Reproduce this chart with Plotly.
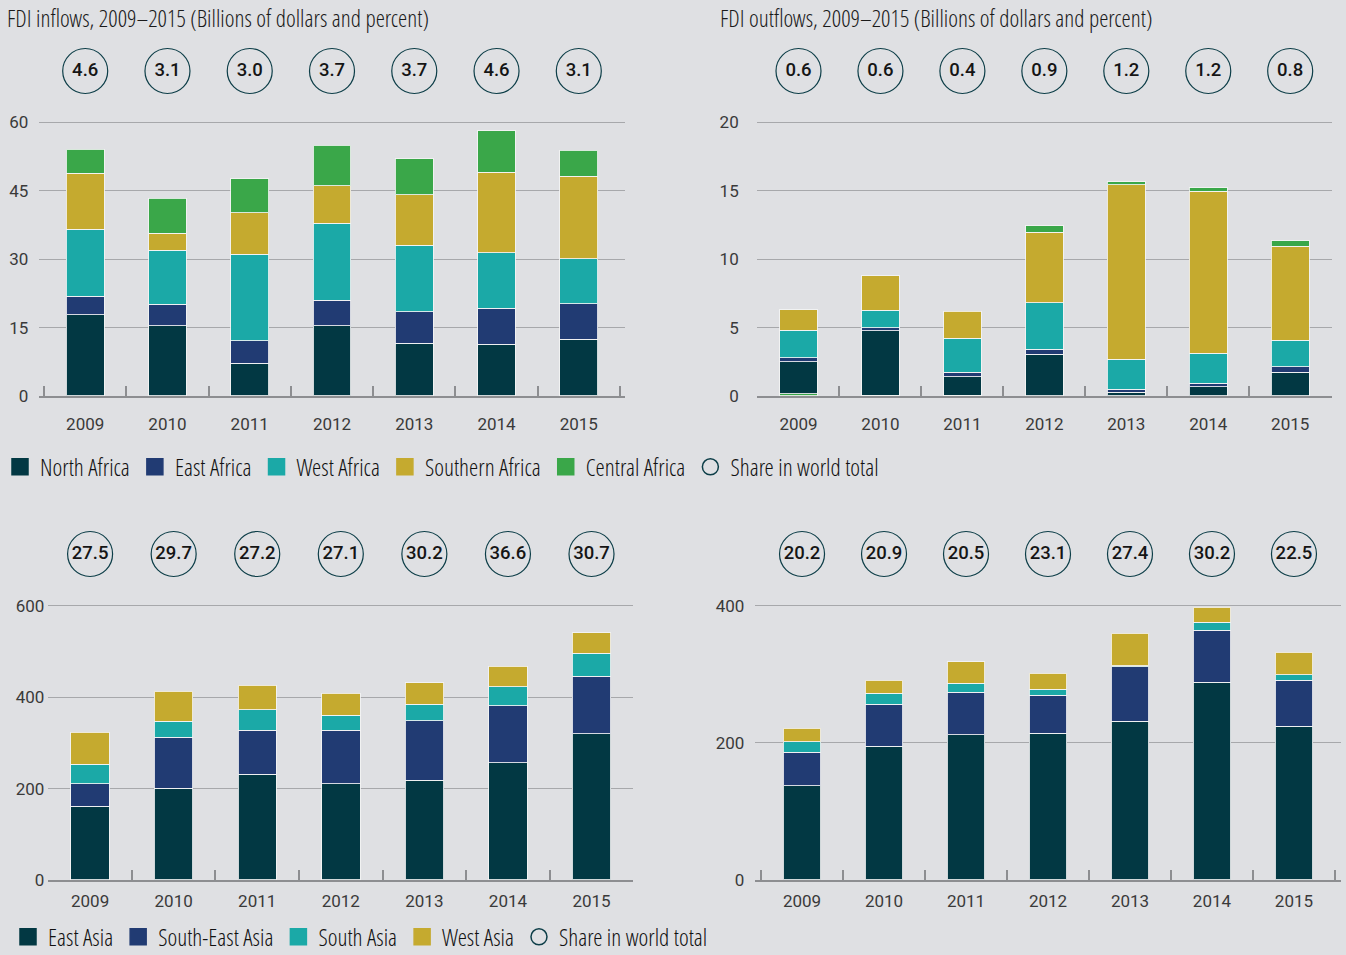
import plotly.graph_objects as go

W, H = 1346, 955

years = ["2009", "2010", "2011", "2012", "2013", "2014", "2015"]

# ---- Africa inflows (billions of dollars)
in_north_africa = [17.8, 15.4, 7.2, 15.4, 11.6, 11.3, 12.4]
in_east_africa = [4.1, 4.7, 4.9, 5.6, 6.9, 7.9, 7.8]
in_west_africa = [14.7, 11.9, 19.0, 16.9, 14.5, 12.2, 9.9]
in_southern_africa = [12.2, 3.7, 9.1, 8.2, 11.1, 17.7, 18.1]
in_central_africa = [5.3, 7.7, 7.4, 8.9, 7.9, 9.0, 5.7]
in_africa_share = [4.6, 3.1, 3.0, 3.7, 3.7, 4.6, 3.1]

# ---- Africa outflows (billions of dollars)
out_central_africa_low = [0.15, 0.05, 0.05, None, None, None, None]
out_north_africa = [2.36, 4.70, 1.36, 3.05, 0.27, 0.68, 1.73]
out_east_africa = [0.27, 0.25, 0.32, 0.36, 0.24, 0.25, 0.41]
out_west_africa = [2.02, 1.26, 2.49, 3.41, 2.17, 2.19, 1.95]
out_southern_africa = [1.49, 2.51, 1.99, 5.15, 12.74, 11.84, 6.85]
out_central_africa = [None, None, None, 0.46, 0.22, 0.24, 0.39]
out_africa_share = [0.6, 0.6, 0.4, 0.9, 1.2, 1.2, 0.8]

# ---- Asia inflows (billions of dollars)
in_east_asia = [161, 200.5, 231, 210, 218.7, 256, 320]
in_south_east_asia = [49.7, 111.5, 96.4, 117.4, 129.1, 125, 126]
in_south_asia = [42.3, 35, 44.6, 32.6, 36.2, 42, 50.5]
in_west_asia = [70.7, 65.7, 54.5, 49, 47, 45, 44.5]
in_asia_share = [27.5, 29.7, 27.2, 27.1, 30.2, 36.6, 30.7]

# ---- Asia outflows (billions of dollars)
out_east_asia = [137.5, 195, 211.9, 214.3, 231.8, 288.3, 224.5]
out_south_east_asia = [48.7, 61.2, 61.8, 55, 79.2, 75.7, 67.1]
out_south_asia = [15.5, 16, 13.1, 8.7, 1.5, 11.8, 7.8]
out_west_asia = [19.9, 19.4, 31.5, 23.8, 47.5, 22.2, 32.6]
out_asia_share = [20.2, 20.9, 20.5, 23.1, 27.4, 30.2, 22.5]

C_DARK = "#023843"
C_NAVY = "#213b73"
C_TEAL = "#1ba9a7"
C_GOLD = "#c5aa2f"
C_GREEN = "#3aa749"
C_CIRCLE = "#0d3e48"
BG = "#dfe0e3"
GRID = "#a7a8ab"
AXIS = "#8d8e91"

COND = "Open Sans Condensed Light, Open Sans, Roboto Condensed, sans-serif"
NUM = "Roboto, Open Sans, sans-serif"

fig = go.Figure()


def px_x(p):
    return p / W


def px_y(p):
    return 1 - p / H


def add_bar(name, vals, color, xa, ya):
    fig.add_trace(go.Bar(
        x=years, y=vals, name=name,
        marker=dict(color=color, line=dict(color="rgba(245,245,245,0.85)", width=1)),
        xaxis=xa, yaxis=ya, showlegend=False, hoverinfo="x+y+name"))


def add_circles(vals, xa, ya):
    fig.add_trace(go.Scatter(
        x=years, y=[0.5] * len(years), mode="markers+text",
        text=[f"{v:.1f}" for v in vals], textposition="middle center",
        textfont=dict(family=NUM, size=18.5, color="#151515", weight=500),
        marker=dict(symbol="circle-open", size=45, color=C_CIRCLE, line=dict(color=C_CIRCLE, width=1.2)),
        xaxis=xa, yaxis=ya, showlegend=False, cliponaxis=False, hoverinfo="skip"))


def add_legend_item(name, color, legend, symbol="square"):
    fig.add_trace(go.Scatter(
        x=[None], y=[None], mode="markers", name=name, legend=legend,
        marker=dict(symbol=symbol, size=16, color=color,
                    line=dict(color=C_CIRCLE if symbol == "circle-open" else color, width=1.5)),
        xaxis="x", yaxis="y", showlegend=True))


# Top-left: Africa inflows
add_bar("North Africa", in_north_africa, C_DARK, "x", "y")
add_bar("East Africa", in_east_africa, C_NAVY, "x", "y")
add_bar("West Africa", in_west_africa, C_TEAL, "x", "y")
add_bar("Southern Africa", in_southern_africa, C_GOLD, "x", "y")
add_bar("Central Africa", in_central_africa, C_GREEN, "x", "y")
add_circles(in_africa_share, "x", "y5")

# Top-right: Africa outflows
add_bar("Central Africa", out_central_africa_low, C_GREEN, "x2", "y2")
add_bar("North Africa", out_north_africa, C_DARK, "x2", "y2")
add_bar("East Africa", out_east_africa, C_NAVY, "x2", "y2")
add_bar("West Africa", out_west_africa, C_TEAL, "x2", "y2")
add_bar("Southern Africa", out_southern_africa, C_GOLD, "x2", "y2")
add_bar("Central Africa", out_central_africa, C_GREEN, "x2", "y2")
add_circles(out_africa_share, "x2", "y6")

# Bottom-left: Asia inflows
add_bar("East Asia", in_east_asia, C_DARK, "x3", "y3")
add_bar("South-East Asia", in_south_east_asia, C_NAVY, "x3", "y3")
add_bar("South Asia", in_south_asia, C_TEAL, "x3", "y3")
add_bar("West Asia", in_west_asia, C_GOLD, "x3", "y3")
add_circles(in_asia_share, "x3", "y7")

# Bottom-right: Asia outflows
add_bar("East Asia", out_east_asia, C_DARK, "x4", "y4")
add_bar("South-East Asia", out_south_east_asia, C_NAVY, "x4", "y4")
add_bar("South Asia", out_south_asia, C_TEAL, "x4", "y4")
add_bar("West Asia", out_west_asia, C_GOLD, "x4", "y4")
add_circles(out_asia_share, "x4", "y8")

# Legends
for nm, col in [("North Africa", C_DARK), ("East Africa", C_NAVY), ("West Africa", C_TEAL),
                ("Southern Africa", C_GOLD), ("Central Africa", C_GREEN)]:
    add_legend_item(nm, col, "legend")
add_legend_item("Share in world total", C_CIRCLE, "legend", symbol="circle-open")
for nm, col in [("East Asia", C_DARK), ("South-East Asia", C_NAVY), ("South Asia", C_TEAL),
                ("West Asia", C_GOLD)]:
    add_legend_item(nm, col, "legend2")
add_legend_item("Share in world total", C_CIRCLE, "legend2", symbol="circle-open")


def xaxis_cfg(x0, x1, anchor, standoff, pad):
    return dict(domain=[px_x(x0), px_x(x1)], anchor=anchor, type="category",
                range=[-0.5 - pad, len(years) - 0.5 + pad], autorange=False,
                showline=True, linecolor=AXIS, linewidth=1.5,
                ticks="inside", tickson="boundaries", ticklen=10, tickcolor=AXIS, tickwidth=1.5,
                tickfont=dict(family=NUM, size=17, color="#3a3a3a"),
                showgrid=False, zeroline=False, fixedrange=True, ticklabelstandoff=standoff)


def yaxis_cfg(y0px, ytoppx, rng, tickvals, anchor, standoff):
    return dict(domain=[px_y(y0px), px_y(ytoppx)], anchor=anchor, range=rng,
                tickvals=tickvals, showgrid=True, gridcolor=GRID, gridwidth=1.4,
                showline=False, zeroline=False, ticks="",
                tickfont=dict(family=NUM, size=17, color="#3a3a3a"), fixedrange=True,
                ticklabelstandoff=standoff)


def circ_axis(top, bottom, anchor):
    return dict(domain=[px_y(bottom), px_y(top)], anchor=anchor, range=[0, 1], visible=False, fixedrange=True)


ppu1 = (396 - 122.3) / 60
ppu2 = (396 - 122.3) / 20
ppu3 = (880 - 605.7) / 600
ppu4 = (880 - 605.7) / 400

LEGFONT = dict(family=COND, size=23.5, color="#111111")
TITLEFONT = dict(family=COND, size=23.5, color="#1a1a1a")

fig.update_layout(
    width=W, height=H,
    margin=dict(l=0, r=0, t=0, b=0, autoexpand=False),
    paper_bgcolor=BG, plot_bgcolor=BG,
    barmode="stack", bargap=0.54,
    xaxis=xaxis_cfg(39.3, 624.7, "y", 12, 0.058),
    yaxis=yaxis_cfg(396, 396 - 62 * ppu1, [0, 62], [0, 15, 30, 45, 60], "x", 10),
    xaxis2=xaxis_cfg(756.7, 1332, "y2", 12, 0.01),
    yaxis2=yaxis_cfg(396, 396 - 20.6 * ppu2, [0, 20.6], [0, 5, 10, 15, 20], "x2", 17),
    xaxis3=xaxis_cfg(48.3, 633.3, "y3", 5, 0.0),
    yaxis3=yaxis_cfg(880, 880 - 620 * ppu3, [0, 620], [0, 200, 400, 600], "x3", 3),
    xaxis4=xaxis_cfg(755.3, 1340.7, "y4", 5, 0.07),
    yaxis4=yaxis_cfg(880, 880 - 413 * ppu4, [0, 413], [0, 200, 400], "x4", 10),
    yaxis5=circ_axis(47, 95, "x"),
    yaxis6=circ_axis(47, 95, "x2"),
    yaxis7=circ_axis(530, 578, "x3"),
    yaxis8=circ_axis(530, 578, "x4"),
    legend=dict(orientation="h", x=px_x(0), y=px_y(467), xanchor="left", yanchor="middle",
                font=LEGFONT, bgcolor="rgba(0,0,0,0)", traceorder="normal",
                itemwidth=30, itemclick=False, itemdoubleclick=False),
    legend2=dict(orientation="h", x=px_x(8), y=px_y(937), xanchor="left", yanchor="middle",
                 font=LEGFONT, bgcolor="rgba(0,0,0,0)", traceorder="normal",
                 itemwidth=30, itemclick=False, itemdoubleclick=False),
    annotations=[
        dict(text="FDI inflows, 2009\u20132015 (Billions of dollars and percent)", x=px_x(5), y=px_y(18),
             xref="paper", yref="paper", xanchor="left", yanchor="middle", showarrow=False,
             font=TITLEFONT),
        dict(text="FDI outflows, 2009\u20132015 (Billions of dollars and percent)", x=px_x(718), y=px_y(18),
             xref="paper", yref="paper", xanchor="left", yanchor="middle", showarrow=False,
             font=TITLEFONT),
    ],
)

POST = (
    "document.body.style.margin='0';document.body.style.overflow='hidden';"
    "var st=document.createElement('style');"
    "st.textContent='.legendtext, .annotation-text { font-stretch: condensed !important; }';"
    "document.head.appendChild(st);"
    "var gd=document.getElementById('{plot_id}');"
    "Plotly.newPlot(gd, gd.data, gd.layout, {displayModeBar:false});"
)

fig.write_html("out.html", config={"displayModeBar": False}, post_script=POST)
